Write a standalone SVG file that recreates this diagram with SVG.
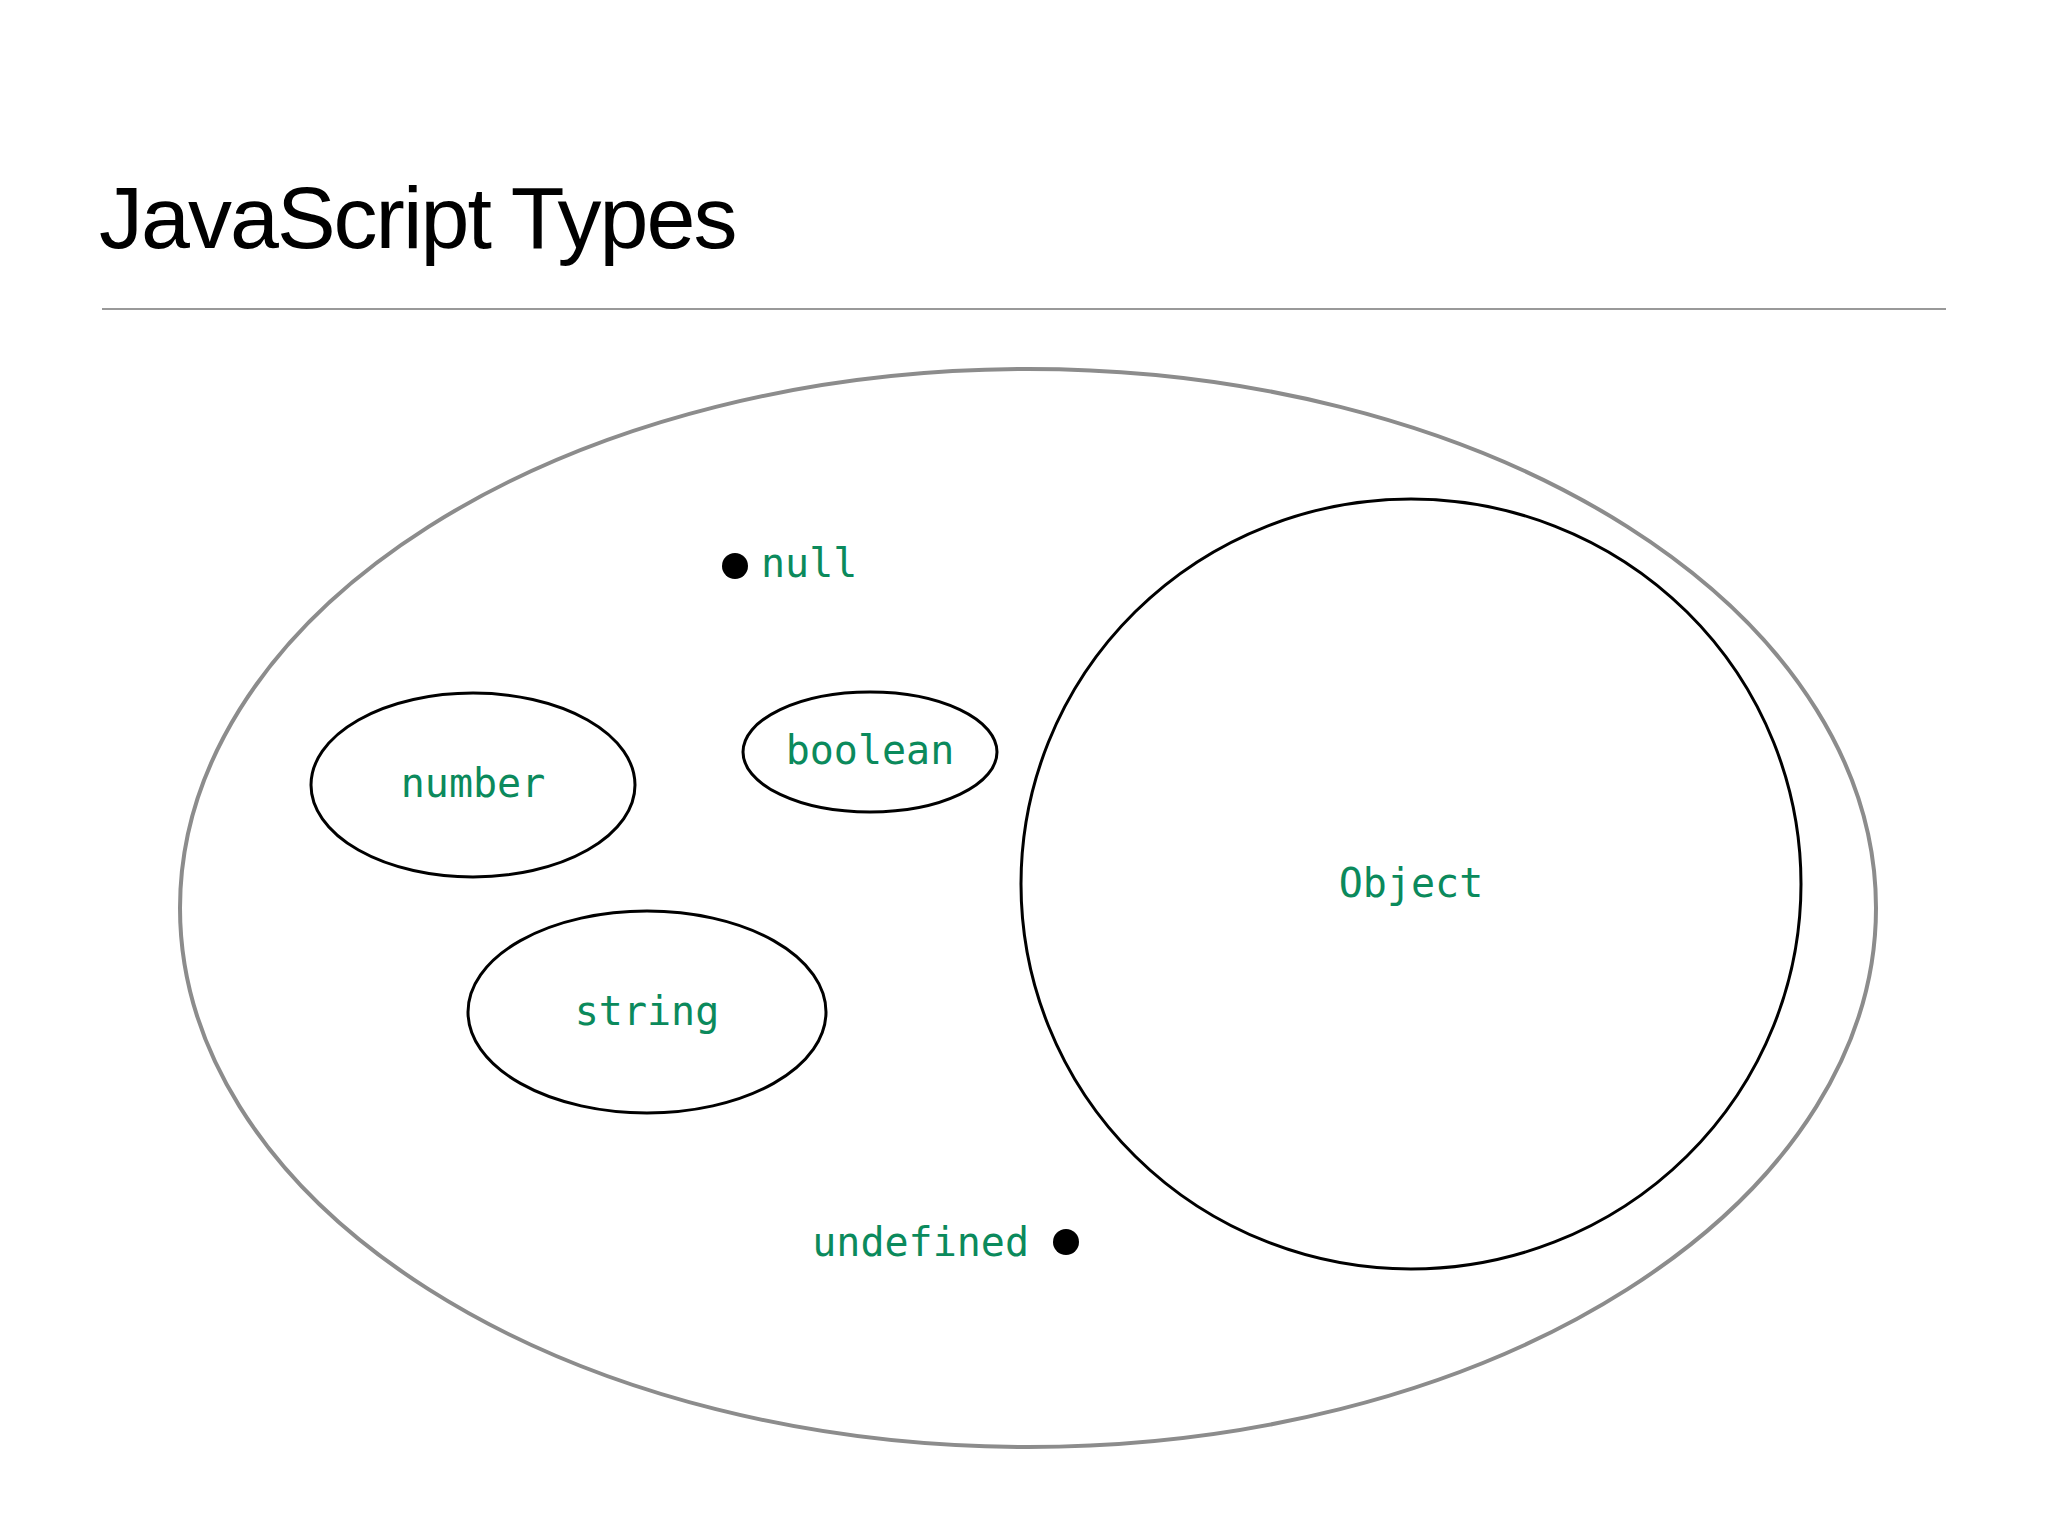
<svg xmlns="http://www.w3.org/2000/svg" width="2048" height="1536" viewBox="0 0 2048 1536">
<style>
.lbl{font-family:"DejaVu Sans Mono","Liberation Mono",monospace;font-size:40px;fill:#0b8a5c}
.inner{fill:none;stroke:#000;stroke-width:3}
</style>
<rect width="2048" height="1536" fill="#fff"/>
<text x="99" y="248" font-family="Liberation Sans, Arial, sans-serif" font-size="88" fill="#000" letter-spacing="-2">JavaScript Types</text>
<line x1="102" y1="309" x2="1946" y2="309" stroke="#999" stroke-width="2"/>
<g id="all"><ellipse cx="1028" cy="908" rx="848" ry="539" fill="none" stroke="#8c8c8c" stroke-width="4"/></g>
<g id="object"><ellipse class="inner" cx="1411" cy="884" rx="390" ry="385"/><text class="lbl" x="1411" y="897" text-anchor="middle">Object</text></g>
<g id="number"><ellipse class="inner" cx="473" cy="785" rx="162" ry="92"/><text class="lbl" x="473" y="797" text-anchor="middle">number</text></g>
<g id="boolean"><ellipse class="inner" cx="870" cy="752" rx="127" ry="60"/><text class="lbl" x="870" y="764" text-anchor="middle">boolean</text></g>
<g id="string"><ellipse class="inner" cx="647" cy="1012" rx="179" ry="101"/><text class="lbl" x="647" y="1025" text-anchor="middle">string</text></g>
<g id="null"><circle cx="735" cy="566" r="13" fill="#000"/><text class="lbl" x="761" y="577">null</text></g>
<g id="undefined"><circle cx="1066" cy="1242" r="13" fill="#000"/><text class="lbl" x="1029" y="1256" text-anchor="end">undefined</text></g>
<g id="connectors"/>
</svg>
